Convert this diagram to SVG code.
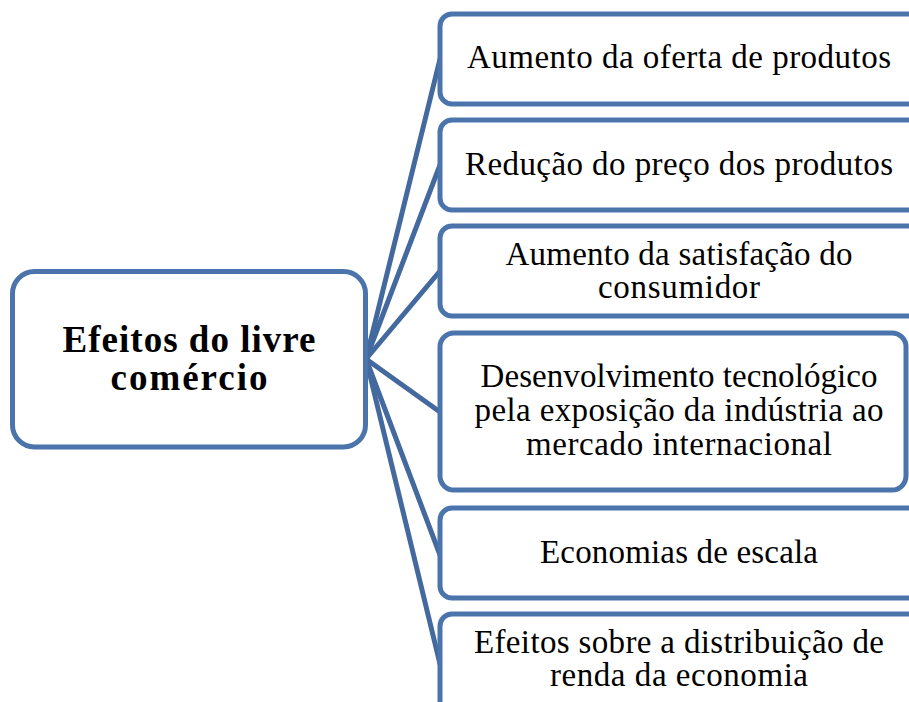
<svg xmlns="http://www.w3.org/2000/svg" width="909" height="702" viewBox="0 0 909 702">
<style>
.box{fill:#fff;stroke:#4A74AB;stroke-width:5}
.conn{stroke:#43699E;stroke-width:5;fill:none;stroke-linecap:round}
.t{font-family:"Liberation Serif","Times New Roman",serif;font-size:33px;fill:#000;text-anchor:middle}
.tb{font-family:"Liberation Serif","Times New Roman",serif;font-size:37px;font-weight:bold;fill:#000;text-anchor:middle}
</style>
<rect width="909" height="702" fill="#fff"/>
<g id="connectors">
<line class="conn" x1="366" y1="359" x2="440" y2="59"/>
<line class="conn" x1="366" y1="359" x2="440" y2="165"/>
<line class="conn" x1="366" y1="359" x2="440" y2="271"/>
<line class="conn" x1="366" y1="359" x2="440" y2="412"/>
<line class="conn" x1="366" y1="359" x2="440" y2="555"/>
<line class="conn" x1="366" y1="359" x2="440" y2="664"/>
</g>
<g id="root">
<rect class="box" x="12.5" y="271.5" width="353" height="175.5" rx="22"/>
<text class="tb" x="189" y="352" textLength="253" lengthAdjust="spacing">Efeitos do livre</text>
<text class="tb" x="189" y="390" textLength="157" lengthAdjust="spacing">comércio</text>
</g>
<g id="n1">
<rect class="box" x="440" y="14" width="480" height="90" rx="12"/>
<text class="t" x="679" y="68" textLength="424" lengthAdjust="spacing">Aumento da oferta de produtos</text>
</g>
<g id="n2">
<rect class="box" x="440" y="120" width="480" height="90" rx="12"/>
<text class="t" x="679" y="175" textLength="428" lengthAdjust="spacing">Redução do preço dos produtos</text>
</g>
<g id="n3">
<rect class="box" x="440" y="226" width="480" height="90" rx="12"/>
<text class="t" x="679" y="265" textLength="347" lengthAdjust="spacing">Aumento da satisfação do</text>
<text class="t" x="679" y="298" textLength="162" lengthAdjust="spacing">consumidor</text>
</g>
<g id="n4">
<rect class="box" x="440" y="333" width="466" height="157" rx="14"/>
<text class="t" x="679" y="387" textLength="397" lengthAdjust="spacing">Desenvolvimento tecnológico</text>
<text class="t" x="679" y="421" textLength="409" lengthAdjust="spacing">pela exposição da indústria ao</text>
<text class="t" x="679" y="455" textLength="306" lengthAdjust="spacing">mercado internacional</text>
</g>
<g id="n5">
<rect class="box" x="440" y="508" width="480" height="90" rx="12"/>
<text class="t" x="679" y="563" textLength="278" lengthAdjust="spacing">Economias de escala</text>
</g>
<g id="n6">
<rect class="box" x="440" y="614" width="480" height="104" rx="12"/>
<text class="t" x="679" y="653" textLength="410" lengthAdjust="spacing">Efeitos sobre a distribuição de</text>
<text class="t" x="679" y="686" textLength="258" lengthAdjust="spacing">renda da economia</text>
</g>
</svg>
